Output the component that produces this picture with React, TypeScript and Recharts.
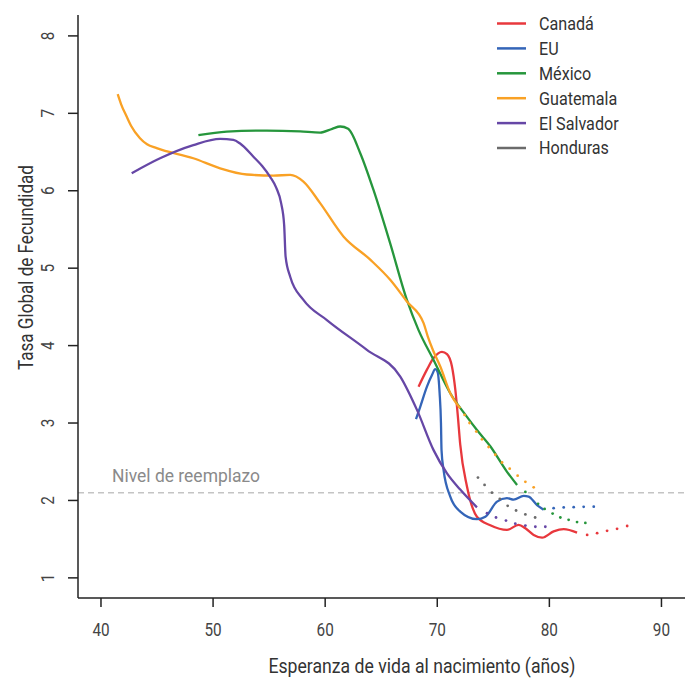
import React from 'react';
import {
  ComposedChart,
  Line,
  Scatter,
  XAxis,
  YAxis,
  ReferenceLine,
  Legend,
} from 'recharts';

// [esperanza de vida, TGF]
const canadaLine = [[68.33, 3.47], [69.08, 3.69], [69.67, 3.84], [70.42, 3.92], [70.87, 3.89], [71.31, 3.73], [71.61, 3.43], [71.83, 3.1], [72.05, 2.72], [72.65, 2.18], [73.54, 1.79], [74.73, 1.68], [76.22, 1.62], [77.26, 1.685], [77.86, 1.64], [78.6, 1.555], [79.35, 1.52], [80.38, 1.6], [81.28, 1.63], [82.47, 1.585]];
const canadaDots = [[83.37, 1.555], [84.26, 1.577], [85.15, 1.607], [86.04, 1.633], [86.94, 1.67]];

const euLine = [[68.1, 3.05], [68.48, 3.21], [69.08, 3.47], [69.53, 3.62], [69.82, 3.695], [70.03, 3.66], [70.21, 3.385], [70.33, 3.0], [70.38, 2.65], [70.56, 2.395], [71.16, 2.05], [72.05, 1.856], [73.54, 1.758], [74.29, 1.79], [75.33, 1.985], [76.22, 2.03], [76.81, 2.01], [77.71, 2.06], [78.15, 2.05], [78.9, 1.94], [79.49, 1.88]];
const euDots = [[80.38, 1.9], [81.28, 1.91], [82.17, 1.913], [83.06, 1.917], [83.96, 1.92]];

const mexicoLine = [[48.69, 6.717], [51.22, 6.764], [54.79, 6.777], [57.77, 6.766], [59.55, 6.751], [60.63, 6.8], [61.34, 6.83], [62.05, 6.8], [63.13, 6.485], [64.31, 6.01], [65.8, 5.32], [67.29, 4.59], [68.33, 4.2], [69.67, 3.815], [71.16, 3.385], [72.65, 3.08], [73.54, 2.91], [74.73, 2.7], [76.22, 2.37], [77.12, 2.2]];
const mexicoDots = [[77.86, 2.11], [78.99, 1.956], [79.58, 1.89], [80.29, 1.83], [80.98, 1.78], [81.72, 1.75], [82.47, 1.72], [83.21, 1.71]];

const guatemalaLine = [[41.49, 7.247], [41.79, 7.12], [42.29, 6.958], [42.68, 6.84], [43.48, 6.679], [44.11, 6.6], [44.97, 6.55], [48.24, 6.42], [50.63, 6.29], [53.01, 6.21], [55.38, 6.196], [56.88, 6.205], [58.06, 6.118], [59.55, 5.84], [61.63, 5.41], [64.02, 5.11], [65.8, 4.85], [67.29, 4.57], [68.78, 4.29], [69.15, 4.12], [69.62, 3.94], [70.27, 3.73], [71.16, 3.385], [72.05, 3.19]];
const guatemalaDots = [[72.44, 3.105], [72.88, 3.0], [73.48, 2.89], [73.99, 2.79], [74.58, 2.69], [75.18, 2.59], [75.78, 2.49], [76.46, 2.41], [77.17, 2.32], [77.86, 2.24], [78.6, 2.17]];

const salvadorLine = [[42.74, 6.227], [45.27, 6.42], [48.24, 6.59], [50.63, 6.67], [51.81, 6.657], [52.41, 6.61], [53.6, 6.44], [54.38, 6.32], [55.09, 6.18], [55.63, 6.04], [56.07, 5.84], [56.34, 5.56], [56.47, 5.15], [56.88, 4.89], [58.06, 4.59], [60.15, 4.33], [63.72, 3.945], [66.7, 3.6], [68.19, 3.17], [69.67, 2.65], [70.87, 2.35], [72.05, 2.14], [73.54, 1.91]];
const salvadorDots = [[74.44, 1.836], [75.24, 1.78], [76.13, 1.74], [76.96, 1.7], [77.86, 1.675], [78.75, 1.66], [79.64, 1.66]];

const hondurasDots = [[73.63, 2.295], [74.22, 2.2], [74.88, 2.1], [75.58, 2.02], [76.28, 1.93], [77.03, 1.87], [77.86, 1.82], [78.73, 1.78]];

const X_TICKS = [40, 50, 60, 70, 80, 90];
const Y_TICKS = [1, 2, 3, 4, 5, 6, 7, 8];
const REPLACEMENT = 2.1;

const COUNTRIES = ['Canadá', 'EU', 'México', 'Guatemala', 'El Salvador', 'Honduras'];
const COLORS: Record<string, string> = {
  'Canadá': '#e8383d',
  'EU': '#3465b8',
  'México': '#26963c',
  'Guatemala': '#f9a125',
  'El Salvador': '#6647a6',
  'Honduras': '#6b6b6b',
};

const toPts = (arr: number[][]) => arr.map(([x, y]) => ({ x, y }));

const series = [
  { name: 'Canadá', line: canadaLine, dots: canadaDots },
  { name: 'EU', line: euLine, dots: euDots },
  { name: 'México', line: mexicoLine, dots: mexicoDots },
  { name: 'Guatemala', line: guatemalaLine, dots: guatemalaDots },
  { name: 'El Salvador', line: salvadorLine, dots: salvadorDots },
  { name: 'Honduras', line: [] as number[][], dots: hondurasDots },
];

const FONT = 'Roboto, sans-serif';
const SQUEEZE = 0.85; // reference uses a condensed face

const XTick = (props: any) => {
  const { x, y, payload } = props;
  return (
    <text transform={`translate(${x},${y + 27}) scale(${SQUEEZE},1)`} textAnchor="middle"
      fontSize={18} fill="#444" fontFamily={FONT}>
      {payload.value}
    </text>
  );
};

const YTick = (props: any) => {
  const { x, y, payload } = props;
  return (
    <text transform={`translate(${x - 18},${y}) rotate(-90) scale(${SQUEEZE},1)`} textAnchor="middle"
      dominantBaseline="central" fontSize={18} fill="#444" fontFamily={FONT}>
      {payload.value}
    </text>
  );
};

const renderLegend = () => (
  <svg width={200} height={160}>
    {COUNTRIES.map((c, i) => {
      const cy = 13.5 + i * 24.9;
      return (
        <g key={c}>
          <line x1={7} x2={36} y1={cy} y2={cy} stroke={COLORS[c]} strokeWidth={2.5} />
          <text transform={`translate(49,${cy}) scale(${SQUEEZE},1)`} dominantBaseline="central"
            fontSize={19} fill="#333" fontFamily={FONT}>
            {c}
          </text>
        </g>
      );
    })}
  </svg>
);

export default function App() {
  return (
    <div style={{ position: 'absolute', left: 0, top: 0, background: '#fff' }}>
      <ComposedChart width={691} height={679} margin={{ top: 15, right: 6, left: 0, bottom: 0 }}>
        <XAxis
          type="number"
          dataKey="x"
          domain={[37.95, 92.1]}
          ticks={X_TICKS}
          allowDataOverflow
          height={81}
          tickSize={9}
          stroke="#222"
          strokeWidth={1.5}
          tick={<XTick />}
          label={() => (
            <text x={422} y={673} textAnchor="middle" fontSize={20} fill="#333" fontFamily={FONT}
              textLength={307} lengthAdjust="spacingAndGlyphs">
              Esperanza de vida al nacimiento (años)
            </text>
          )}
        />
        <YAxis
          type="number"
          dataKey="y"
          domain={[0.74, 8.27]}
          ticks={Y_TICKS}
          allowDataOverflow
          width={78}
          tickSize={10}
          stroke="#222"
          strokeWidth={1.5}
          tick={<YTick />}
          label={() => (
            <text transform="translate(26,267.5) rotate(-90)" textAnchor="middle" dominantBaseline="central"
              fontSize={20} fill="#333" fontFamily={FONT} textLength={205} lengthAdjust="spacingAndGlyphs">
              Tasa Global de Fecundidad
            </text>
          )}
        />
        <ReferenceLine
          y={REPLACEMENT}
          stroke="#c4c4c4"
          strokeWidth={1.4}
          strokeDasharray="6 4"
          label={(p: any) => (
            <text x={p.viewBox.x + 34} y={p.viewBox.y - 11} fontSize={19} fill="#8a8a8a" fontFamily={FONT}
              textLength={148} lengthAdjust="spacingAndGlyphs">
              Nivel de reemplazo
            </text>
          )}
        />
        {series.filter(s => s.line.length > 0).map(s => (
          <Line
            key={s.name + '-line'}
            data={toPts(s.line)}
            dataKey="y"
            type="monotone"
            stroke={COLORS[s.name]}
            strokeWidth={2.3}
            dot={false}
            activeDot={false}
            isAnimationActive={false}
            legendType="none"
          />
        ))}
        {series.map(s => (
          <Scatter
            key={s.name + '-dots'}
            data={toPts(s.dots)}
            fill={COLORS[s.name]}
            isAnimationActive={false}
            legendType="none"
            shape={(p: any) => <circle cx={p.cx} cy={p.cy} r={1.4} fill={COLORS[s.name]} />}
          />
        ))}
        <Legend
          layout="vertical"
          align="center"
          verticalAlign="middle"
          content={renderLegend}
          wrapperStyle={{ top: 10, left: 490, width: 200 }}
        />
      </ComposedChart>
    </div>
  );
}
